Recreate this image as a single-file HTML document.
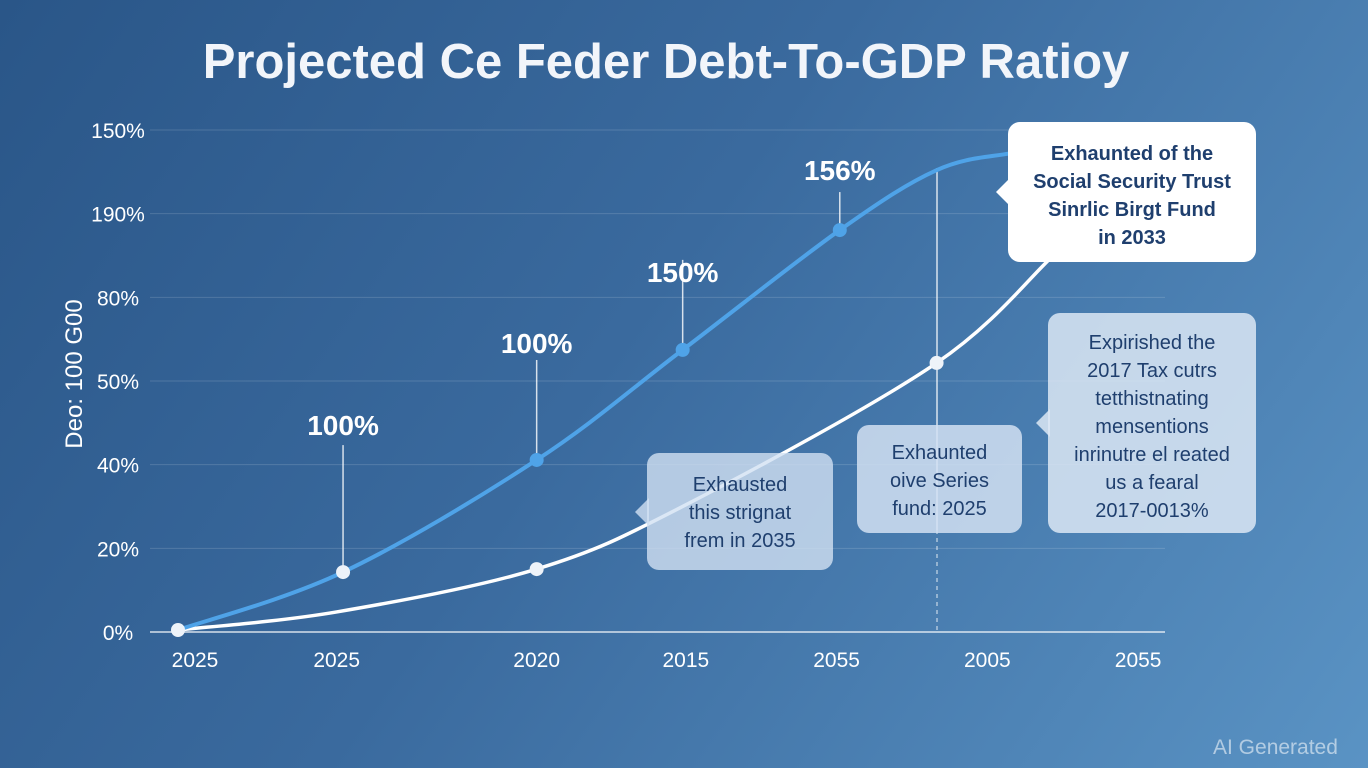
<!DOCTYPE html>
<html><head><meta charset="utf-8"><style>
body{margin:0;width:1368px;height:768px;overflow:hidden;font-family:"Liberation Sans",sans-serif}
#bg{position:absolute;left:0;top:0;width:1368px;height:768px;background:linear-gradient(125deg,#2a5688 0%,#3a6a9e 45%,#5a93c4 100%)}
.t{position:absolute;color:#fff}
.box{position:absolute;text-align:center;font-size:20px;line-height:28px;color:#1f3f6e;border-radius:12px;font-weight:bold}
.ptr:before{content:"";position:absolute;top:50%;left:-26px;margin-top:-14px;border:14px solid transparent;border-right:14px solid;border-right-color:inherit}
</style></head><body>
<div id="bg"></div>
<div class="t" style="left:0;width:1332px;top:34px;text-align:center;font-size:49px;font-weight:bold;color:#f2f5fa">Projected Ce Feder Debt-To-GDP Ratioy</div>
<div class="t" style="left:-25px;top:360px;width:200px;text-align:center;font-size:24px;transform:rotate(-90deg)">Deo: 100 G00</div>
<svg id="chart" width="1368" height="768" style="position:absolute;left:0;top:0"></svg>
<div class="box ptr" style="left:1008px;top:122px;width:248px;height:140px;background:#fff;border-color:#fff;padding-top:18px;box-sizing:border-box">Exhaunted of the<br>Social Security Trust<br>Sinrlic Birgt Fund<br>in 2033</div>
<div class="box ptr" style="left:1048px;top:313px;width:208px;height:220px;background:rgba(220,232,245,0.85);border-color:rgba(220,232,245,0.85);padding-top:16px;box-sizing:border-box;font-weight:normal">Expirished the<br>2017 Tax cutrs<br>tetthistnating<br>mensentions<br>inrinutre el reated<br>us a fearal<br>2017-0013%</div>
<div class="box" style="left:857px;top:425px;width:165px;height:108px;background:rgba(210,225,242,0.85);padding-top:14px;box-sizing:border-box;font-weight:normal">Exhaunted<br>oive Series<br>fund: 2025</div>
<div class="box ptr" style="left:647px;top:453px;width:186px;height:117px;background:rgba(210,225,242,0.8);border-color:rgba(210,225,242,0.8);padding-top:18px;box-sizing:border-box;font-weight:normal">Exhausted<br>this strignat<br>frem in 2035</div>
<div class="t" style="left:1213px;top:736px;font-size:21px;color:rgba(255,255,255,0.55)">AI Generated</div>
<script>
const yTickVals=[0,25,50,75,100,125,150];
const yTickLabels=["0%","20%","40%","50%","80%","190%","150%"];
const xTickVals=[0,1,2.26,3.2,4.15,5.1,6.05];
const xTickLabels=["2025","2025","2020","2015","2055","2005","2055"];
const blueT=[0,1.04,2.26,3.18,4.17,4.78,5.24,5.6];
const blueV=[0.6,17.9,51.4,84.3,120.1,138,143,145];
const whiteT=[0,1,2.26,3.2,4.78,5.55,5.8];
const whiteV=[0.6,6,18.8,38,80.4,114,122];
const annT=[1.04,2.26,3.18,4.17];
const annV=[17.9,51.4,84.3,120.1];
const annLabels=["100%","100%","150%","156%"];
const svg=document.getElementById('chart');
const NS='http://www.w3.org/2000/svg';
const x=t=>178+t*158.7, y=v=>632-v/150*502;
function mk(tag,a){const e=document.createElementNS(NS,tag);for(const k in a)e.setAttribute(k,a[k]);svg.appendChild(e);return e;}
yTickVals.forEach((v,i)=>{
 const g=mk('line',{x1:150,x2:1165,y1:y(v),y2:y(v),stroke:i==0?'rgba(255,255,255,0.6)':'rgba(255,255,255,0.15)','stroke-width':i==0?2:1});
 
 
 const t=mk('text',{x:118,y:y(v)+8,'text-anchor':'middle',fill:'#fff','font-size':21});
 t.textContent=yTickLabels[i];
 
 
});
xTickVals.forEach((v,i)=>{
 const t=mk('text',{x:x(v)+(i==0?17:0),y:667,'text-anchor':'middle',fill:'#fff','font-size':21});
 t.textContent=xTickLabels[i];
 
 
});
function path(T,V){const p=T.map((t,i)=>[x(t),y(V[i])]);let d='M'+p[0];for(let i=0;i<p.length-1;i++){const p0=p[i-1]||p[i],p1=p[i],p2=p[i+1],p3=p[i+2]||p2;d+=` C${p1[0]+(p2[0]-p0[0])/6},${p1[1]+(p2[1]-p0[1])/6} ${p2[0]-(p3[0]-p1[0])/6},${p2[1]-(p3[1]-p1[1])/6} ${p2}`;}return d;}
const vl=mk('line',{x1:937,x2:937,y1:168,y2:530,stroke:'rgba(255,255,255,0.8)','stroke-width':1.5});


const vd=mk('line',{x1:937,x2:937,y1:530,y2:632,stroke:'rgba(255,255,255,0.7)','stroke-width':1.2,'stroke-dasharray':'4 4'});


const wl=mk('path',{d:path(whiteT,whiteV),fill:'none',stroke:'#fff','stroke-width':3.5});


const bl=mk('path',{d:path(blueT,blueV),fill:'none',stroke:'#4fa3e8','stroke-width':4});


annT.forEach((t,i)=>{
 const l=mk('line',{x1:x(t),x2:x(t),y1:y(annV[i])-(i==0?127:i==1?100:i==2?90:38),y2:y(annV[i]),stroke:'rgba(255,255,255,0.8)','stroke-width':1.5});
 
 
 const tx=mk('text',{x:x(t),y:y(annV[i])-(i==0?137:i==1?107:i==2?68:50),'text-anchor':'middle',fill:'#fff','font-size':28,'font-weight':'bold'});
 tx.textContent=annLabels[i];
 
 
 const c=mk('circle',{cx:x(t),cy:y(annV[i]),r:7,fill:i==0?'#eef3f9':'#4fa3e8'});
 
 
});
[[0,0.6],[2.26,18.8],[4.78,80.4]].forEach(p=>{
 const c=mk('circle',{cx:x(p[0]),cy:y(p[1]),r:7,fill:'#eef3f9'});
 
 
});
</script>
</body></html>
